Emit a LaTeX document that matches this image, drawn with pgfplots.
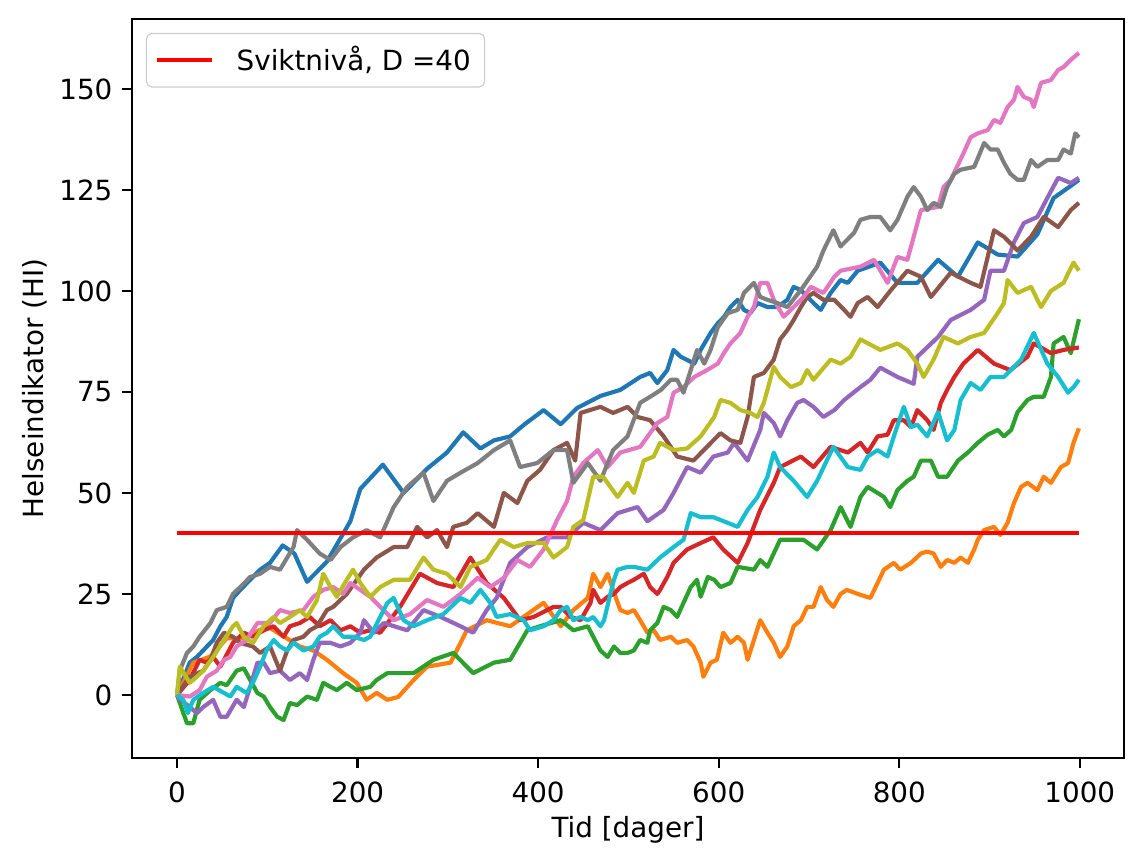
\documentclass[border=0pt]{standalone}
\usepackage{fontspec}
\setmainfont{DejaVu Sans}
\usepackage{pgfplots}
\pgfplotsset{compat=1.18}
\definecolor{C0}{HTML}{1F77B4}
\definecolor{C1}{HTML}{FF7F0E}
\definecolor{C2}{HTML}{2CA02C}
\definecolor{C3}{HTML}{D62728}
\definecolor{C4}{HTML}{9467BD}
\definecolor{C5}{HTML}{8C564B}
\definecolor{C6}{HTML}{E377C2}
\definecolor{C7}{HTML}{7F7F7F}
\definecolor{C8}{HTML}{BCBD22}
\definecolor{C9}{HTML}{17BECF}
\begin{document}
\begin{tikzpicture}
\begin{axis}[
  scale only axis, width=357.1pt, height=266pt,
  xmin=-49.95, xmax=1048.95, ymin=-15.6, ymax=167.3,
  xtick={0,200,...,1000}, ytick={0,25,...,150},
  tick align=outside, xtick pos=bottom, ytick pos=left,
  major tick length=3.5pt,
  every tick/.style={black, line width=0.8pt},
  axis line style={line width=0.8pt},
  /pgf/number format/assume math mode=true,
  /pgf/number format/1000 sep={},
  ticklabel style={font=\fontsize{10}{12}\selectfont},
  xticklabel style={yshift=-1.5pt},
  label style={font=\fontsize{10}{12}\selectfont},
  xlabel={Tid [dager]}, ylabel={Helseindikator (HI)},
  x label style={at={(axis description cs:0.5,-0.0974)}, anchor=center},
  y label style={at={(axis description cs:-0.098,0.5)}, anchor=center},
  every axis plot/.append style={line width=1.5pt, line join=round},
  legend style={at={(0,1)}, anchor=north west, xshift=5pt, yshift=-5pt,
    draw=black!20, rounded corners=2pt, font=\fontsize{10}{12}\selectfont,
    inner xsep=3pt, inner ysep=2.5pt},
  legend cell align=left,
  legend image code/.code={\draw[#1] (0pt,0pt) -- (20pt,0pt); \path (26pt,0pt);},
]
% C0
\addplot[C0, forget plot] coordinates {(0,0) (14,8) (22,9.4) (40,13.6) (48,17) (55,19.3) (62,24) (70,26) (81,28.5) (92,31) (103,32.7) (117,37) (130,35) (144,28) (166,33) (192,43) (203,51) (228,57) (251,50) (277,56) (299,60) (317,65) (336,61) (351,63) (369,64) (385,67) (406,70.5) (425,67) (443,71) (469,74) (491,75.5) (513,78.7) (524,79.7) (532,77.2) (543,80.4) (550,85.4) (558,83.7) (573,82) (580,85.4) (591,89.6) (599,92) (606,93.6) (613,96) (621,97.8) (628,95.3) (635,94.5) (643,97) (654,96) (665,96) (676,97.8) (683,101) (691,100.2) (705,97) (713,95.3) (724,99.5) (735,102.7) (743,102) (754,105) (779,107) (798,102) (820,102) (843,107.7) (865,103.5) (887,112) (909,109) (931,108.5) (953,114) (971,123) (990,126) (999,127.5)};
% C1
\addplot[C1, forget plot] coordinates {(0,0) (18,8) (37,9.5) (55,14) (73,14) (100,17) (136,12) (151,11) (166,8.7) (184,5.4) (199,3) (210,-1.2) (221,0.5) (233,-1.2) (245,-0.5) (262,3.7) (277,7) (303,8) (321,16) (343,18.5) (369,17) (406,22.8) (425,17) (439,21) (455,24) (461,30) (469,26.7) (477,30) (483,26) (491,21) (499,20.3) (506,21) (513,18.5) (521,15.4) (528,16) (535,13.6) (547,14.4) (554,12.9) (565,13.6) (572,12) (580,8) (583,4.5) (591,8) (598,8.7) (605,15.4) (613,12.9) (621,14.4) (628,12.9) (632,8.7) (639,13.6) (646,18.5) (654,15.4) (661,12.9) (668,9.4) (676,12) (683,17) (691,18.5) (698,21.8) (705,21.8) (713,26.7) (720,23.5) (727,21.8) (735,25) (742,26) (754,25) (768,24) (783,31) (794,32.7) (801,31) (813,32.7) (824,35) (831,35.5) (838,35) (846,31.7) (853,33.4) (861,32.7) (868,34) (876,32.7) (883,36) (887,38.4) (894,40.8) (905,41.6) (912,39.6) (920,42.6) (927,47.5) (935,51.5) (942,52.5) (953,50.7) (960,54) (968,52.5) (979,56.4) (987,57.4) (993,62.4) (999,66)};
% C2
\addplot[C2, forget plot] coordinates {(0,0) (7,-4.5) (11,-7) (18,-7) (25,-1.2) (37,1.2) (48,3) (55,2.4) (66,6) (74,6.6) (81,3.7) (89,0.5) (96,-0.4) (103,-3) (111,-5.4) (118,-6.2) (125,-2) (133,-2.5) (144,-0.4) (155,-1.2) (162,3) (170,2) (177,1.2) (188,3) (199,1.2) (214,2) (221,3.7) (233,5.4) (262,5.4) (284,8.7) (306,10.4) (328,5.4) (351,8) (369,8.7) (388,16) (402,17) (425,18.5) (439,16) (455,17) (461,14.4) (469,11) (477,9.4) (484,12) (491,10.4) (499,10.4) (506,11) (513,13.6) (521,12.9) (524,16) (532,17.8) (539,21.8) (547,21) (554,19.3) (561,22.8) (569,26.7) (576,28.5) (580,24.3) (588,29.2) (595,28.5) (602,26.7) (613,27.7) (621,31.7) (639,31) (646,33.4) (654,31.7) (668,38.4) (694,38.4) (709,36) (724,40.8) (735,46.5) (746,41.6) (757,49) (765,51.5) (776,50) (783,49) (790,46.5) (798,50.7) (809,53) (816,54) (824,58) (835,58) (843,54) (853,54) (865,58) (876,60) (887,62.4) (898,64.4) (909,65.6) (916,64) (924,65.6) (931,70) (942,73) (949,73.8) (960,73.8) (968,78.7) (971,87) (982,88.6) (990,84.6) (999,93)};
% C3
\addplot[C3, forget plot] coordinates {(0,0) (14,3.7) (25,8.7) (33,8) (40,9.4) (48,7) (62,12.9) (74,15.4) (84,14.4) (96,16) (107,17) (118,14.4) (125,17) (136,17.8) (147,19.3) (158,17) (170,18.5) (181,16) (192,17) (203,15.4) (214,16) (225,15.4) (247,21.8) (269,30) (288,27.7) (306,26.7) (325,34) (343,27.7) (362,24) (380,18.5) (395,19.3) (417,21.8) (425,21.8) (436,19.3) (447,18.5) (458,22.8) (461,26) (469,22.8) (477,24.3) (484,25) (491,26.7) (499,27.7) (506,28.5) (517,30) (524,26.7) (532,25) (535,26) (543,29.2) (550,32.7) (565,36) (580,37.6) (594,39) (605,36) (621,32.7) (632,37.6) (646,45.8) (661,52.5) (668,56.4) (691,59) (705,56.4) (724,61.4) (743,60) (757,62.4) (765,60) (776,64) (787,64.4) (794,68) (805,68) (813,66.3) (820,70.5) (831,68) (838,65.6) (846,72.3) (853,75.5) (861,78.7) (871,82) (887,85.4) (905,82) (923,80.4) (942,83.7) (949,87) (968,84.6) (982,85.4) (999,86)};
% C4
\addplot[C4, forget plot] coordinates {(0,0) (3,-1) (14,-3) (22,-4.5) (29,-3) (40,-1.2) (48,-5.4) (55,-5.4) (66,-1.2) (74,-3) (81,2) (89,8) (96,8) (103,5.4) (114,6) (125,3.7) (136,5.4) (144,3.7) (151,8.7) (158,12.9) (170,12.9) (181,12) (192,12.9) (203,15.4) (207,18.5) (218,15.4) (229,17.8) (255,16) (273,21) (292,19.3) (314,17) (328,15.4) (343,21) (354,24) (369,32.7) (388,36.6) (410,39) (432,39) (450,42.6) (469,40.8) (488,45) (510,46.5) (521,43) (539,45.8) (550,50) (565,56.4) (580,55) (594,59) (610,60) (617,62.4) (632,58) (646,65.6) (650,69.8) (661,67.3) (668,64) (676,68) (687,72.3) (694,73) (705,71.3) (716,68.8) (728,70.5) (739,73) (757,76.2) (768,78) (779,81) (798,78.7) (816,77) (820,83.7) (843,88.6) (857,92.8) (879,95.3) (894,97.8) (901,105) (916,105) (927,112) (938,116.8) (953,118.3) (964,123) (976,128) (990,126.7) (999,128)};
% C5
\addplot[C5, forget plot] coordinates {(0,0) (14,4.5) (29,6) (37,8.7) (44,12.9) (52,15.4) (62,14.4) (70,12.9) (84,12) (92,10.4) (103,12) (114,6) (122,11) (129,13.6) (140,14.4) (147,16) (155,17) (166,21) (173,21.8) (188,25) (207,31) (221,34) (240,36.6) (255,36.6) (266,41.6) (277,39) (288,40.8) (299,36.6) (306,41.6) (321,42.6) (333,45) (351,41.6) (362,50) (377,47.5) (388,53) (402,55.7) (417,60.6) (432,62.4) (441,58) (447,69.8) (469,71.3) (483,69.8) (499,71.3) (510,68.8) (524,68) (539,64) (554,59) (572,58) (587,61.4) (602,64.8) (613,63) (624,62.4) (632,68.8) (639,78.7) (650,79.7) (661,83) (668,88) (676,90.3) (683,92.8) (691,96) (698,98.5) (705,99.5) (716,97.8) (728,97.8) (739,95.3) (746,93.6) (754,97) (765,98.5) (776,96) (790,100) (809,105) (824,103.5) (835,98.5) (857,104.5) (879,102) (890,101) (905,115) (916,113.4) (931,110) (946,113.4) (960,118.3) (976,115.8) (990,120) (999,121.8)};
% C6
\addplot[C6, forget plot] coordinates {(0,0) (14,-0.4) (25,1.2) (33,4.5) (44,6) (52,8.7) (59,9.4) (66,12) (77,13.6) (89,17.8) (103,17.8) (114,21) (125,20.3) (140,21) (151,24.3) (162,26) (173,26.7) (184,25) (192,27.7) (214,24.3) (225,21.8) (240,18.5) (258,20) (277,23.5) (295,21.8) (314,25) (333,29) (347,26.7) (362,29) (377,33.4) (391,31.7) (406,36) (421,43.3) (432,48) (439,54) (450,57.4) (466,60.6) (477,56.4) (491,60) (513,61.4) (532,67.3) (543,68.8) (550,74.8) (561,76.2) (573,78.7) (587,80.4) (599,82) (606,84.7) (613,87) (624,89.6) (632,93.6) (639,96) (646,102) (654,102) (661,97.8) (672,93.6) (683,96) (694,98.5) (702,101) (716,99.5) (728,103.5) (735,105) (757,106) (772,107.7) (787,102) (798,108.4) (809,107.7) (816,113.4) (824,120) (843,120.8) (849,125.7) (857,127.5) (871,134) (879,138) (887,139) (898,139.8) (905,142.3) (912,141.6) (920,145.5) (927,147.3) (931,150.5) (938,148) (946,147.3) (949,145.5) (957,151.5) (968,152.2) (976,154.7) (982,155.4) (990,157.2) (999,158.9)};
% C7
\addplot[C7, forget plot] coordinates {(0,0) (3,6) (11,10.4) (18,12) (25,14.4) (37,17.8) (44,21) (55,21.8) (62,25) (70,26.7) (81,29.2) (92,30) (103,31.7) (114,31) (129,36.6) (133,40.8) (144,38.4) (158,35) (170,33.4) (181,36.6) (195,39) (210,40.8) (225,39) (240,46.5) (255,51.5) (273,55) (284,48) (299,53) (314,55) (333,57.4) (351,60.6) (369,63) (380,56.4) (399,57.4) (417,60.6) (432,60.6) (439,52.5) (455,57.4) (469,53) (483,60.6) (499,64) (513,72.3) (524,73.8) (536,75.5) (547,78) (554,78) (561,74.8) (569,80.4) (576,85.4) (584,82) (591,85.4) (599,91) (610,94.5) (621,95.3) (628,99.5) (639,102) (646,98.5) (654,97.8) (665,97) (676,96) (691,100.2) (709,106) (716,110) (727,115) (735,111) (750,114.4) (757,117.6) (768,118.3) (779,118.3) (790,115) (798,117.6) (809,123.3) (816,125.7) (824,123.3) (831,120) (838,121.8) (846,120.8) (853,125.7) (861,129) (868,130) (883,130.7) (894,136.6) (901,135) (909,135) (916,131.7) (923,129) (931,127.5) (938,127.5) (946,132.4) (953,130.7) (964,132.4) (976,132.4) (982,135) (990,134) (995,139) (999,138)};
% C8
\addplot[C8, forget plot] coordinates {(0,0) (3,7) (14,3) (22,4.5) (29,6) (40,9.4) (52,13.6) (62,17) (66,17.8) (74,14.4) (84,12.9) (96,17) (107,19.3) (114,17.8) (125,19.3) (136,21) (144,19.3) (155,23.5) (162,30) (170,26.7) (177,24.3) (188,28.5) (195,31) (203,27.7) (214,24.3) (225,26.7) (240,28.5) (258,28.5) (273,34) (284,31) (299,30) (314,26.7) (325,31.7) (343,33.4) (358,38.4) (373,36.6) (388,37.6) (406,37.6) (417,34) (432,36.6) (439,41.6) (450,43.3) (461,54) (472,54) (488,49) (499,52.5) (506,50) (517,58) (528,59) (535,62.4) (550,60.6) (565,61) (580,64) (595,68.8) (602,73) (613,72.3) (624,70.5) (635,69.8) (643,68.8) (650,72.3) (661,81.2) (668,78.7) (680,76.2) (691,77.2) (698,80.4) (705,78) (724,83) (735,82) (746,83.7) (757,88) (779,85.4) (798,87) (809,85.4) (820,82) (827,78.7) (838,83) (849,88.6) (865,87) (879,88.6) (894,89.6) (909,94.5) (916,97) (920,102.7) (931,99.5) (946,101) (957,96) (968,100) (982,102) (993,107) (999,105)};
% C9
\addplot[C9, forget plot] coordinates {(0,0) (7,-1.2) (12,-4.5) (18,-1.2) (29,0.5) (40,2) (52,0.5) (59,-0.4) (66,2) (77,0.5) (84,3) (92,7) (99,11) (107,13.6) (114,12) (122,11) (129,12.9) (140,11) (151,12) (158,14.4) (166,15.4) (173,17) (184,14.4) (196,14.4) (207,13.6) (214,14.4) (225,19.3) (233,22.8) (240,24) (251,18.5) (262,17) (277,18.5) (295,20) (314,24) (325,22.8) (336,26) (347,22.8) (354,19.3) (369,20) (384,18.5) (391,16) (406,17) (417,18.5) (425,21) (432,21.8) (439,18.5) (447,19.3) (455,18.5) (461,19.3) (469,17) (473,18.5) (480,25) (484,28.5) (488,31) (499,31.7) (506,31.7) (521,31) (535,34) (550,36.6) (561,38.4) (569,45) (580,44) (594,44) (610,42.6) (621,41.6) (632,45.8) (643,49) (654,54) (661,60) (668,56.4) (683,53) (698,49) (709,53) (727,61.4) (743,56.4) (757,55.7) (765,59) (776,60.6) (787,59) (794,64) (805,71.3) (813,66.3) (820,66.9) (831,64) (843,70) (853,63) (861,65.6) (868,73) (879,77.2) (890,75.5) (901,78.7) (916,78.7) (935,83) (949,89.6) (964,82) (976,78.7) (987,74.8) (993,76.2) (999,78)};
% failure level
\addplot[red] coordinates {(0,40) (999,40)};
\addlegendentry{Sviktnivå, D =40}
\end{axis}
\pgfresetboundingbox
\path (-47.5pt,-38.5pt) rectangle (363.94pt,272.84pt);
\end{tikzpicture}
\end{document}
